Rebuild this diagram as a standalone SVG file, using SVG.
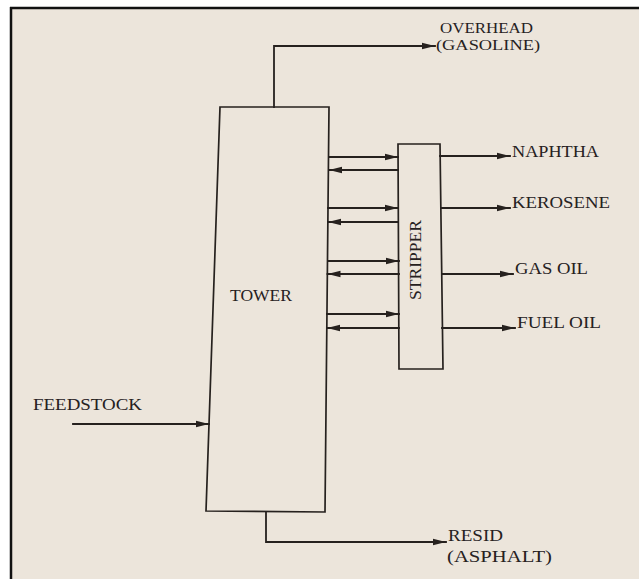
<svg xmlns="http://www.w3.org/2000/svg" width="639" height="579" viewBox="0 0 639 579">
<style>
.ln{fill:none;stroke:#26211e;stroke-width:1.8;stroke-linecap:square}
.bx{fill:none;stroke:#26211e;stroke-width:1.7;stroke-linejoin:miter}
.t{font-family:"Liberation Serif","Times New Roman",serif;font-size:16.5px;fill:#26211e}
.s{font-size:15px}
</style>
<defs>
<marker id="ah" markerUnits="userSpaceOnUse" markerWidth="15" markerHeight="10" refX="13" refY="5" orient="auto">
<path d="M0,1.8 L13,5 L0,8.2 Z" fill="#26211e"/>
</marker>
</defs>
<rect x="0" y="0" width="639" height="579" fill="#ffffff"/>
<rect x="11" y="8" width="628" height="571" fill="#ece5db"/>
<line x1="10" y1="8" x2="639" y2="8" stroke="#111" stroke-width="2.5"/>
<line x1="11" y1="7" x2="11" y2="579" stroke="#111" stroke-width="2.5"/>

<g id="tower">
<polygon class="bx" points="220,107 329,107 325,512 206,511"/>
<text class="t" x="230" y="301" textLength="62" lengthAdjust="spacingAndGlyphs">TOWER</text>
</g>
<g id="stripper">
<polygon class="bx" points="398,144 440,144 443,369 399,369"/>
<text class="t" transform="translate(421,300) rotate(-90)" x="0" y="0" textLength="80" lengthAdjust="spacingAndGlyphs">STRIPPER</text>
</g>
<g id="overhead">
<text class="t s" x="440" y="33" textLength="93" lengthAdjust="spacingAndGlyphs">OVERHEAD</text>
<text class="t s" x="436" y="50" textLength="104" lengthAdjust="spacingAndGlyphs">(GASOLINE)</text>
</g>
<g id="naphtha"><text class="t" x="512" y="157" textLength="87" lengthAdjust="spacingAndGlyphs">NAPHTHA</text></g>
<g id="kerosene"><text class="t" x="512" y="208" textLength="98" lengthAdjust="spacingAndGlyphs">KEROSENE</text></g>
<g id="gasoil"><text class="t" x="515" y="274" textLength="73" lengthAdjust="spacingAndGlyphs">GAS OIL</text></g>
<g id="fueloil"><text class="t" x="517" y="328" textLength="84" lengthAdjust="spacingAndGlyphs">FUEL OIL</text></g>
<g id="feedstock"><text class="t" x="33" y="410" textLength="109" lengthAdjust="spacingAndGlyphs">FEEDSTOCK</text></g>
<g id="resid">
<text class="t" x="448" y="541" textLength="55" lengthAdjust="spacingAndGlyphs">RESID</text>
<text class="t" x="447" y="562" textLength="105" lengthAdjust="spacingAndGlyphs">(ASPHALT)</text>
</g>

<g id="connectors">
<polyline class="ln" points="274,107 274,46 435,46" marker-end="url(#ah)"/>
<polyline class="ln" points="266,512 266,542 446,542" marker-end="url(#ah)"/>
<line class="ln" x1="73" y1="424" x2="209" y2="424" marker-end="url(#ah)"/>

<line class="ln" x1="329" y1="157" x2="398" y2="157" marker-end="url(#ah)"/>
<line class="ln" x1="398" y1="170" x2="329" y2="170" marker-end="url(#ah)"/>
<line class="ln" x1="328" y1="208" x2="398" y2="208" marker-end="url(#ah)"/>
<line class="ln" x1="398" y1="222" x2="328" y2="222" marker-end="url(#ah)"/>
<line class="ln" x1="328" y1="261" x2="399" y2="261" marker-end="url(#ah)"/>
<line class="ln" x1="399" y1="274" x2="327.5" y2="274" marker-end="url(#ah)"/>
<line class="ln" x1="327" y1="314" x2="399" y2="314" marker-end="url(#ah)"/>
<line class="ln" x1="399" y1="328" x2="327" y2="328" marker-end="url(#ah)"/>

<line class="ln" x1="440" y1="156" x2="510" y2="156" marker-end="url(#ah)"/>
<line class="ln" x1="441" y1="208" x2="510" y2="208" marker-end="url(#ah)"/>
<line class="ln" x1="442" y1="274" x2="513" y2="274" marker-end="url(#ah)"/>
<line class="ln" x1="442" y1="328" x2="515" y2="328" marker-end="url(#ah)"/>
</g>
</svg>
